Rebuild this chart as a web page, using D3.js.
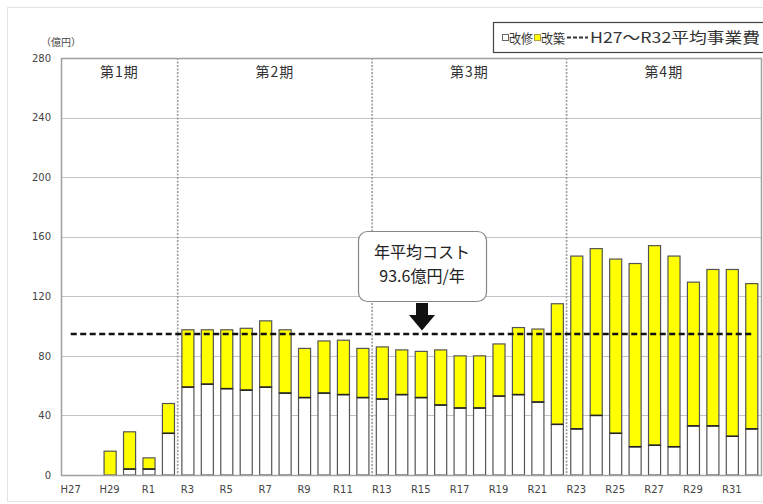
<!DOCTYPE html>
<html><head><meta charset="utf-8">
<script src="https://cdn.jsdelivr.net/npm/d3@7"></script>
<style>body{margin:0;background:#fff;}svg{display:block;font-family:"Noto Sans CJK JP","Noto Sans",sans-serif;}</style>
</head><body>
<svg id="c" width="763" height="504"></svg>
<script>
const categories = ["H27","H28","H29","H30","R1","R2","R3","R4","R5","R6","R7","R8","R9","R10","R11","R12",
  "R13","R14","R15","R16","R17","R18","R19","R20","R21","R22","R23","R24","R25","R26","R27","R28","R29","R30","R31","R32"];
// 改修 (renovation, white)
const renovation = [0,0,0,4,4,28, 59,61,58,57,59,55,52,55,54,52, 51,54,52,47,45,45,53,54,49,34, 31,40,28,19,20,19,33,33,26,31];
// 改築 (rebuild, yellow)
const rebuild = [0,0,16,25,7.5,20, 38.5,36.5,39.5,41.5,44.5,42.5,33,35,36.5,33, 35,30,31,37,35,35,35,45,49,81, 116,112,117,123,134,128,96.5,105,112,97.5];
const average = 93.6;
const yTicks = [0,40,80,120,160,200,240,280];
const xTickLabels = ["H27","H29","R1","R3","R5","R7","R9","R11","R13","R15","R17","R19","R21","R23","R25","R27","R29","R31"];
const periods = [{name:"第1期", from:"H27", to:"R2"},{name:"第2期", from:"R3", to:"R12"},{name:"第3期", from:"R13", to:"R22"},{name:"第4期", from:"R23", to:"R32"}];

const svg = d3.select("#c");
const L = 61, R = 761, T = 58, B = 475;
const x = d3.scaleBand().domain(categories).range([L, R]).paddingInner(0.38).paddingOuter(0.19);
const step = x.step();
const y = d3.scaleLinear().domain([0, 280]).range([B, T]);

// outer faint frame
svg.append("rect").attr("x",7.5).attr("y",7.5).attr("width",760).attr("height",494).attr("fill","none").attr("stroke","#e4e4e4");

// gridlines
svg.append("g").selectAll("line").data(yTicks.slice(1,-1)).join("line")
  .attr("x1",L).attr("x2",R).attr("y1",d=>Math.round(y(d))+0.5).attr("y2",d=>Math.round(y(d))+0.5)
  .attr("stroke","#c4c4c4").attr("stroke-width",1.2);

// y axis labels
const yAxis = d3.axisLeft(y).tickValues(yTicks).tickSize(0).tickPadding(10);
const gy = svg.append("g").attr("transform",`translate(${L},0)`).call(yAxis);
gy.select(".domain").remove();
gy.selectAll("text").attr("font-size",10).attr("fill","#444").attr("font-family","'DejaVu Sans',sans-serif");
svg.append("text").attr("x",41).attr("y",46).attr("font-size",10).attr("fill","#444").text("（億円）");

// x axis labels
const xAxis = d3.axisBottom(x).tickValues(xTickLabels).tickSize(0).tickPadding(11);
const gx = svg.append("g").attr("transform",`translate(0,${B})`).call(xAxis);
gx.select(".domain").remove();
gx.selectAll("text").attr("font-size",10).attr("fill","#444").attr("font-family","'DejaVu Sans',sans-serif");

// period dividers
const dividers = periods.slice(1).map(p=>x(p.from) - x.step()*x.paddingInner()/2);
svg.append("g").selectAll("line").data(dividers).join("line")
  .attr("x1",d=>d).attr("x2",d=>d).attr("y1",T).attr("y2",B)
  .attr("stroke","#9a9a9a").attr("stroke-width",1.6).attr("stroke-dasharray","2,1.5");

// period labels
svg.append("g").selectAll("text").data(periods).join("text")
  .attr("x",p=>{const a=x(p.from)-step*x.paddingInner()/2; const b=x(p.to)+x.bandwidth()+step*x.paddingInner()/2; return (Math.max(a,L)+Math.min(b,R))/2;})
  .attr("y",77).attr("text-anchor","middle").attr("font-size",14).attr("fill","#333").attr("letter-spacing","1px")
  .text(p=>p.name);

// bars
const data = categories.map((c,i)=>({c, r:renovation[i], b:rebuild[i]}));
const gb = svg.append("g");
gb.selectAll("rect.ren").data(data.filter(d=>d.r>0)).join("rect").attr("class","ren")
  .attr("x",d=>x(d.c)+0.5).attr("width",x.bandwidth())
  .attr("y",d=>y(d.r)).attr("height",d=>y(0)-y(d.r))
  .attr("fill","#fff").attr("stroke","#555").attr("stroke-width",1.2);
gb.selectAll("rect.reb").data(data.filter(d=>d.b>0)).join("rect").attr("class","reb")
  .attr("x",d=>x(d.c)+0.5).attr("width",x.bandwidth())
  .attr("y",d=>y(d.r+d.b)).attr("height",d=>y(d.r)-y(d.r+d.b))
  .attr("fill","#ffff00").attr("stroke","#555").attr("stroke-width",1.2);
// darker line between segments
gb.selectAll("line.sep").data(data.filter(d=>d.r>0&&d.b>0)).join("line").attr("class","sep")
  .attr("x1",d=>x(d.c)+0.5).attr("x2",d=>x(d.c)+0.5+x.bandwidth())
  .attr("y1",d=>y(d.r)).attr("y2",d=>y(d.r)).attr("stroke","#222").attr("stroke-width",1.5);

// plot frame
svg.append("rect").attr("x",L+0.5).attr("y",T+0.5).attr("width",R-L).attr("height",B-T)
  .attr("fill","none").attr("stroke","#a0a0a0").attr("stroke-width",1.5);

// average dashed line
svg.append("line")
  .attr("x1",x(categories[0])+x.bandwidth()/2).attr("x2",x(categories[categories.length-1])+x.bandwidth()/2)
  .attr("y1",y(average)-1.5).attr("y2",y(average)-1.5)
  .attr("stroke","#111").attr("stroke-width",2.5).attr("stroke-dasharray","6,3.5");

// annotation box
const ax = 422;
svg.append("rect").attr("x",358.5).attr("y",231.5).attr("width",128).attr("height",70).attr("rx",9)
  .attr("fill","#fff").attr("stroke","#888").attr("stroke-width",1.2);
svg.append("text").attr("x",ax).attr("y",258).attr("text-anchor","middle").attr("font-size",16).attr("fill","#222").text("年平均コスト");
svg.append("text").attr("x",ax).attr("y",282).attr("text-anchor","middle").attr("font-size",16).attr("fill","#222").text("93.6億円/年");
// arrow
svg.append("path").attr("d",`M${ax-6},303 L${ax+6},303 L${ax+6},315 L${ax+13},315 L${ax},${y(average)-5} L${ax-13},315 L${ax-6},315 Z`)
  .attr("fill","#111");

// legend
const lg = svg.append("g");
lg.append("rect").attr("x",493.5).attr("y",22.5).attr("width",272).attr("height",30).attr("fill","#fff").attr("stroke","#444").attr("stroke-width",1.2);
const ly = 43;
lg.append("rect").attr("x",502.5).attr("y",34.5).attr("width",6).attr("height",6).attr("fill","#fff").attr("stroke","#666").attr("stroke-width",1);
lg.append("text").attr("x",509).attr("y",ly).attr("font-size",13).attr("fill","#333").attr("textLength",24).attr("lengthAdjust","spacingAndGlyphs").text("改修");
lg.append("rect").attr("x",534.5).attr("y",34.5).attr("width",6).attr("height",6).attr("fill","#ffff00").attr("stroke","#b0a040").attr("stroke-width",1);
lg.append("text").attr("x",541).attr("y",ly).attr("font-size",13).attr("fill","#333").attr("textLength",24).attr("lengthAdjust","spacingAndGlyphs").text("改築");
lg.append("line").attr("x1",567).attr("x2",588).attr("y1",37.5).attr("y2",37.5).attr("stroke","#333").attr("stroke-width",2).attr("stroke-dasharray","4,2");
lg.append("text").attr("x",590).attr("y",ly).attr("font-size",14.5).attr("fill","#333").attr("textLength",170).attr("lengthAdjust","spacingAndGlyphs").text("H27～R32平均事業費");
</script>
</body></html>
